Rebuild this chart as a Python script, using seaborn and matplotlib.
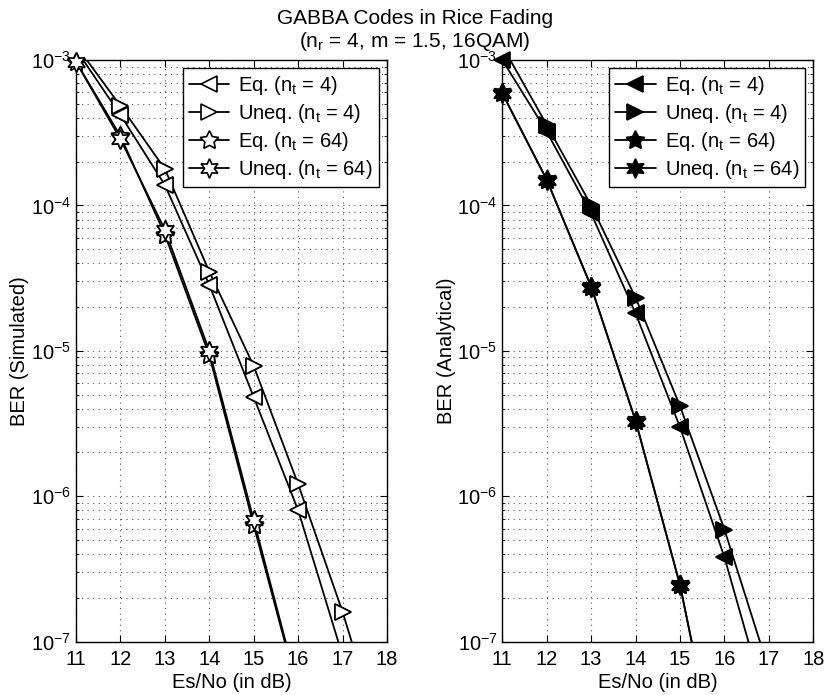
import numpy as np
import pandas as pd
import matplotlib
matplotlib.use("Agg")
import matplotlib.pyplot as plt
import seaborn as sns

# Es/No grid (dB)
snr = [11, 12, 13, 14, 15, 16, 17, 18]

# Simulated BER (left panel)
sim_eq4 = [1.18e-3, 4.19e-4, 1.38e-4, 2.84e-5, 4.8e-6, 8.0e-7, 8.0e-8, 8.0e-9]
sim_uneq4 = [1.26e-3, 4.83e-4, 1.78e-4, 3.5e-5, 7.85e-6, 1.21e-6, 1.6e-7, 1.6e-8]
sim_eq64 = [9.7e-4, 3.0e-4, 6.3e-5, 9.3e-6, 6.3e-7, 4.5e-8, 3.0e-9, 2.0e-10]
sim_uneq64 = [9.7e-4, 2.85e-4, 6.8e-5, 1.0e-5, 6.85e-7, 4.7e-8, 3.2e-9, 2.2e-10]

# Analytical BER (right panel)
ana_eq4 = [1.0e-3, 3.21e-4, 8.8e-5, 1.81e-5, 2.98e-6, 3.8e-7, 3.2e-8, 2.7e-9]
ana_uneq4 = [1.25e-3, 3.57e-4, 1.0e-4, 2.32e-5, 4.17e-6, 5.9e-7, 6.4e-8, 6.5e-9]
ana_eq64 = [5.9e-4, 1.5e-4, 2.76e-5, 3.3e-6, 2.45e-7, 8.0e-9, 2.5e-10, 8.0e-12]
ana_uneq64 = [5.9e-4, 1.5e-4, 2.76e-5, 3.3e-6, 2.45e-7, 8.0e-9, 2.5e-10, 8.0e-12]

labels = [r"Eq. (n$_{\rm t}$ = 4)", r"Uneq. (n$_{\rm t}$ = 4)",
          r"Eq. (n$_{\rm t}$ = 64)", r"Uneq. (n$_{\rm t}$ = 64)"]
markers = ["<", ">", (5, 1, 0), (6, 1, 0)]
msizes = [11, 11, 14, 14]

FS = 14.5

sns.set_style("ticks")
plt.rcParams["font.family"] = ["Liberation Sans", "DejaVu Sans"]
plt.rcParams["mathtext.fontset"] = "custom"
plt.rcParams["mathtext.rm"] = "Liberation Sans"
plt.rcParams["mathtext.it"] = "Liberation Sans:italic"
plt.rcParams["mathtext.sf"] = "Liberation Sans"
plt.rcParams["font.size"] = FS
for key in ["text.color", "axes.labelcolor", "xtick.color", "ytick.color"]:
    plt.rcParams[key] = "black"

fig = plt.figure(figsize=(8.3, 6.95), dpi=100)
ax1 = fig.add_axes([0.0916, 0.0767, 0.3747, 0.837])
ax2 = fig.add_axes([0.6052, 0.0767, 0.3747, 0.837])

panels = [
    (ax1, [sim_eq4, sim_uneq4, sim_eq64, sim_uneq64], "white", "BER (Simulated)"),
    (ax2, [ana_eq4, ana_uneq4, ana_eq64, ana_uneq64], "black", "BER (Analytical)"),
]

grid_style = dict(color="#555555", linestyle=(0, (1, 4)), linewidth=0.8)

for ax, series, face, ylab in panels:
    for vals, lab, mk, ms in zip(series, labels, markers, msizes):
        df = pd.DataFrame({"snr": snr, "ber": vals})
        sns.lineplot(data=df, x="snr", y="ber", ax=ax, color="black", lw=1.3,
                     marker=mk, markersize=ms, markerfacecolor=face,
                     markeredgecolor="black", markeredgewidth=1.2, label=lab)
        # markers inside the limits are drawn unclipped, as in the original
        inside = df[(df.ber >= 1e-7 * 0.999) & (df.ber <= 1e-3 * 1.001)]
        ax.plot(inside.snr, inside.ber, linestyle="none", marker=mk, markersize=ms,
                markerfacecolor=face, markeredgecolor="black",
                markeredgewidth=1.2, clip_on=False, zorder=5)

    ax.set_yscale("log")
    ax.set_xlim(11, 18)
    ax.set_ylim(1e-7, 1e-3)
    ax.set_xticks(snr)
    ax.set_xlabel("Es/No (in dB)", fontsize=FS, labelpad=3)
    ax.set_ylabel(ylab, fontsize=FS, labelpad=1)
    ax.tick_params(which="both", direction="in", top=True, right=True,
                   labelsize=FS, color="black", labelcolor="black")
    ax.tick_params(which="major", length=5)
    ax.tick_params(axis="x", which="major", pad=6)
    ax.tick_params(which="minor", length=2.5)
    ax.grid(True, which="major", axis="both", **grid_style)
    ax.grid(True, which="minor", axis="y", **grid_style)
    for sp in ax.spines.values():
        sp.set_visible(True)
        sp.set_color("black")
        sp.set_linewidth(1.0)
    leg = ax.legend(loc="upper right", fontsize=FS, frameon=True, fancybox=False,
                    edgecolor="black", framealpha=1, borderaxespad=0.4,
                    handlelength=2.0, labelspacing=0.25, borderpad=0.3,
                    handletextpad=0.45)
    leg.get_frame().set_linewidth(1.0)

fig.text(0.5, 0.974, "GABBA Codes in Rice Fading", ha="center", va="center",
         fontsize=15)
fig.text(0.5, 0.941, r"(n$_{\rm r}$ = 4, m = 1.5, 16QAM)", ha="center",
         va="center", fontsize=15)

fig.savefig("out.png", dpi=100)
